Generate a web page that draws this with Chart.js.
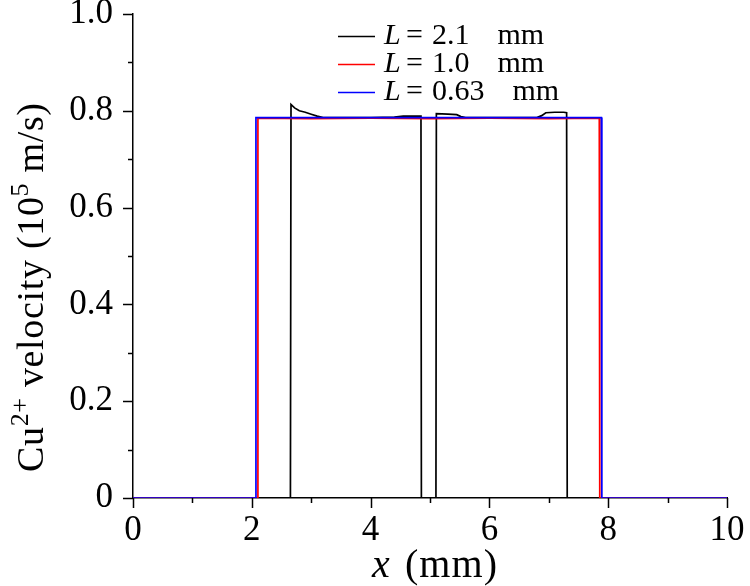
<!DOCTYPE html>
<html><head><meta charset="utf-8">
<script src="https://cdn.jsdelivr.net/npm/chart.js@4.4.0/dist/chart.umd.min.js"></script>
<style>html,body{margin:0;padding:0;background:#fff;}#wrap{width:750px;height:586px;position:relative;}</style>
</head><body><div id="wrap"><canvas id="c" width="750" height="586"></canvas></div>
<script>
// ---- data (x in mm, velocity in 10^5 m/s) ----
const seriesLabels = ['2.1', '1.0', '0.63'];
const seriesColors = ['#000000', '#ff0000', '#0000ff'];

const xL21 = [0, 2.65, 2.66, 2.72, 2.80, 2.90, 3.00, 3.10, 3.20, 4.00, 4.40, 4.55, 4.80, 4.848, 4.855, 5.10, 5.107, 5.30, 5.45, 5.52, 5.60, 6.00, 6.80, 6.88, 6.95, 7.10, 7.25, 7.30, 7.31, 10];
const yL21 = [0, 0, 0.813, 0.806, 0.800, 0.797, 0.793, 0.789, 0.786, 0.786, 0.787, 0.789, 0.789, 0.789, 0, 0, 0.794, 0.793, 0.792, 0.788, 0.786, 0.786, 0.786, 0.790, 0.796, 0.797, 0.797, 0.796, 0, 0];

const xL10 = [0, 2.095, 2.103, 3.0, 4.0, 5.0, 6.0, 7.0, 7.85, 7.858, 10];
const yL10 = [0, 0, 0.785, 0.784, 0.785, 0.784, 0.785, 0.784, 0.785, 0, 0];

const xL063 = [0, 2.062, 2.07, 7.885, 7.893, 10];
const yL063 = [0, 0, 0.786, 0.786, 0, 0];

const xTickValues = [0, 2, 4, 6, 8, 10];
const yTickValues = [0, 0.2, 0.4, 0.6, 0.8, 1.0];
const xMinorValues = [1, 3, 5, 7, 9];
const yMinorValues = [0.1, 0.3, 0.5, 0.7, 0.9];

const SERIF = '"Liberation Serif", "DejaVu Serif", serif';

function pts(xs, ys) { return xs.map((x, i) => ({ x: x, y: ys[i] })); }

// draw text char by char stretched to a target width
function drawStretched(ctx, pieces, x0, y0, targetW) {
  let natural = 0, nChars = 0;
  pieces.forEach(p => {
    ctx.font = p.font;
    for (const ch of p.t) { natural += ctx.measureText(ch).width; nChars++; }
  });
  const extra = nChars > 1 ? (targetW - natural) / (nChars - 1) : 0;
  let x = x0;
  pieces.forEach(p => {
    ctx.font = p.font;
    for (const ch of p.t) {
      ctx.fillText(ch, x, y0 - (p.up || 0));
      x += ctx.measureText(ch).width + extra;
    }
  });
}

const decorPlugin = {
  id: 'decor',
  afterDraw(chart) {
    const ctx = chart.ctx;
    const xs = chart.scales.x, ys = chart.scales.y;
    const axX = chart.chartArea.left, axY = chart.chartArea.bottom;
    ctx.save();
    ctx.strokeStyle = '#000';
    ctx.lineWidth = 1.5;
    ctx.beginPath();
    xTickValues.forEach(v => { const p = Math.round(xs.getPixelForValue(v)) + 0.5; ctx.moveTo(p, axY); ctx.lineTo(p, axY + 10); });
    xMinorValues.forEach(v => { const p = Math.round(xs.getPixelForValue(v)) + 0.5; ctx.moveTo(p, axY); ctx.lineTo(p, axY + 5); });
    yTickValues.forEach(v => { const p = Math.round(ys.getPixelForValue(v)) + 0.5; ctx.moveTo(axX, p); ctx.lineTo(axX - 10, p); });
    yMinorValues.forEach(v => { const p = Math.round(ys.getPixelForValue(v)) + 0.5; ctx.moveTo(axX, p); ctx.lineTo(axX - 5, p); });
    ctx.stroke();

    // legend
    ctx.fillStyle = '#000';
    ctx.textBaseline = 'middle';
    ctx.textAlign = 'left';
    const rowY = [36, 64, 92];
    const fs = 30;
    seriesLabels.forEach((lab, i) => {
      const y = rowY[i];
      ctx.strokeStyle = seriesColors[i];
      ctx.lineWidth = 1.5;
      ctx.beginPath(); ctx.moveTo(338, y + 0.5); ctx.lineTo(375, y + 0.5); ctx.stroke();
      ctx.font = 'italic ' + fs + 'px ' + SERIF;
      ctx.fillText('L', 384, y);
      ctx.font = fs + 'px ' + SERIF;
      ctx.fillText('=', 406, y);
      ctx.fillText(lab, 432, y);
      const numEnd = 432 + ctx.measureText(lab).width;
      ctx.fillText('mm', numEnd + 28, y);
    });

    // x axis title
    ctx.textBaseline = 'alphabetic';
    ctx.font = 'italic 40px ' + SERIF;
    ctx.fillText('x', 372, 577);
    drawStretched(ctx, [{ t: '(mm)', font: '40px ' + SERIF }], 405, 577, 92);

    // y axis title (rotated)
    ctx.save();
    ctx.translate(43, 472);
    ctx.rotate(-Math.PI / 2);
    drawStretched(ctx, [
      { t: 'Cu', font: '38px ' + SERIF },
      { t: '2+', font: '26px ' + SERIF, up: 15 },
      { t: ' velocity (10', font: '38px ' + SERIF },
      { t: '5', font: '26px ' + SERIF, up: 15 },
      { t: ' m/s)', font: '38px ' + SERIF }
    ], 0, 0, 369);
    ctx.restore();
    ctx.restore();
  }
};

const chart = new Chart(document.getElementById('c'), {
  type: 'line',
  data: {
    datasets: [
      { label: 'L = 2.1 mm', data: pts(xL21, yL21), borderColor: seriesColors[0], order: 2 },
      { label: 'L = 1.0 mm', data: pts(xL10, yL10), borderColor: seriesColors[1], order: 1 },
      { label: 'L = 0.63 mm', data: pts(xL063, yL063), borderColor: seriesColors[2], order: 0 }
    ]
  },
  options: {
    responsive: false,
    animation: false,
    devicePixelRatio: 1,
    elements: {
      line: { borderWidth: 1.7, tension: 0, fill: false },
      point: { radius: 0, hitRadius: 0 }
    },
    layout: { padding: { left: 0, right: 23, top: 14, bottom: 0 } },
    plugins: { legend: { display: false }, tooltip: { enabled: false } },
    scales: {
      x: {
        type: 'linear', min: 0, max: 10,
        grid: { display: false, drawTicks: false, tickLength: 0 },
        border: { display: true, color: '#000', width: 1.5 },
        ticks: { stepSize: 2, color: '#000', padding: 12, font: { family: SERIF, size: 35 }, maxRotation: 0 },
        afterFit(s) { s.height = 88; s.paddingLeft = 0; s.paddingRight = 0; }
      },
      y: {
        type: 'linear', min: 0, max: 1,
        grid: { display: false, drawTicks: false, tickLength: 0 },
        border: { display: true, color: '#000', width: 1.5 },
        ticks: { stepSize: 0.2, color: '#000', padding: 20, font: { family: SERIF, size: 35 },
          callback: v => (Math.abs(v) < 1e-9 ? '0' : v.toFixed(1)) },
        afterFit(s) { s.width = 133; s.paddingTop = 0; s.paddingBottom = 0; }
      }
    }
  },
  plugins: [decorPlugin]
});
</script></body></html>
